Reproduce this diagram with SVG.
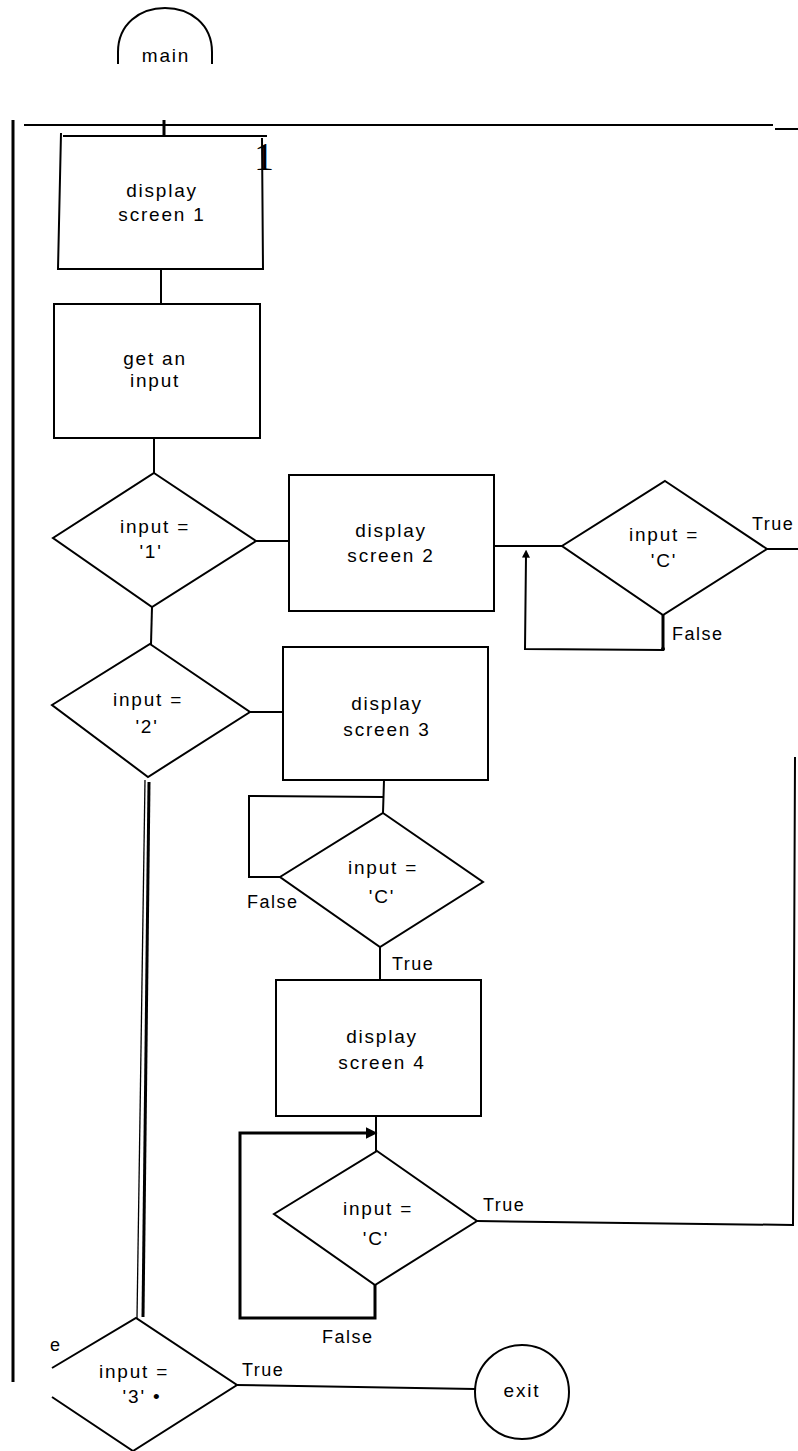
<svg xmlns="http://www.w3.org/2000/svg" width="798" height="1451" viewBox="0 0 798 1451">
<style>
  .shape { fill: none; stroke: #000; stroke-width: 2; stroke-linejoin: miter; }
  .line { fill: none; stroke: #000; stroke-width: 2; }
  .thick { fill: none; stroke: #000; stroke-width: 3; }
  .thin { fill: none; stroke: #000; stroke-width: 1.3; }
  .t { font-family: "Liberation Sans", Arial, sans-serif; font-size: 19px; letter-spacing: 1.8px; fill: #000; text-anchor: middle; }
  .lbl { font-family: "Liberation Sans", Arial, sans-serif; font-size: 18px; letter-spacing: 1.5px; fill: #000; }
</style>
<defs>
  <marker id="arrow" viewBox="0 0 10 10" refX="2" refY="5" markerWidth="4" markerHeight="4" orient="auto" markerUnits="strokeWidth">
    <path d="M0,0 L10,5 L0,10 Z" fill="#000"/>
  </marker>
</defs>
<rect width="798" height="1451" fill="#fff"/>

<g id="connectors">
  <line class="thick" x1="13" y1="120" x2="13" y2="1382"/>
  <line class="line" x1="24" y1="125" x2="773" y2="125" stroke-width="2.5"/>
  <line class="line" x1="775" y1="129" x2="798" y2="129"/>
  <line class="thick" x1="164" y1="120" x2="164" y2="136"/>
  <line class="line" x1="161" y1="269" x2="161" y2="303" stroke-width="2.5"/>
  <line class="line" x1="154" y1="438" x2="154" y2="473"/>
  <line class="line" x1="256" y1="541" x2="289" y2="541"/>
  <line class="line" x1="152" y1="607" x2="151" y2="644" stroke-width="2.5"/>
  <line class="line" x1="494" y1="546" x2="562" y2="546"/>
  <line class="line" x1="767" y1="549" x2="798" y2="549"/>
  <path class="line" d="M663,615 L663,650 L525,649 L526,556" marker-end="url(#arrow)"/>
  <line class="thick" x1="663" y1="615" x2="663" y2="650"/>
  <circle cx="663" cy="649" r="2" fill="#000"/>
  <line class="line" x1="250" y1="712" x2="283" y2="712"/>
  <line class="thin" x1="145" y1="780" x2="137" y2="1318"/>
  <line class="thick" x1="149" y1="782" x2="143" y2="1317"/>
  <line class="line" x1="384" y1="780" x2="383" y2="813"/>
  <path class="line" d="M383,797 L249,796 L249,877 L280,877"/>
  <line class="line" x1="380" y1="947" x2="380" y2="980"/>
  <line class="line" x1="376" y1="1117" x2="376" y2="1151"/>
  <path class="thick" d="M375,1285 L375,1318 L240,1318 L240,1133 L368,1133" marker-end="url(#arrow)"/>
  <path class="line" d="M477,1221 L793,1225 L795,757"/>
  <line class="line" x1="236" y1="1385" x2="475" y2="1389"/>
</g>

<g id="main">
  <path class="shape" d="M118,64 L118,52 C118,24 140,8 165,8 C190,8 212,24 212,52 L212,64"/>
  <text class="t" x="166" y="62">main</text>
</g>

<g id="screen1">
  <path class="shape" d="M63,136 L267,136 M262,138 L263,269 L58,269 L61,133"/>
  <text x="254" y="170" font-family="Liberation Serif, Times New Roman, serif" font-size="40" fill="#000">1</text>
  <text class="t" x="162" y="197">display</text>
  <text class="t" x="162" y="221">screen 1</text>
</g>

<g id="get-input">
  <rect class="shape" x="54" y="304" width="206" height="134"/>
  <text class="t" x="155" y="365">get an</text>
  <text class="t" x="155" y="387">input</text>
</g>

<g id="dec1">
  <polygon class="shape" points="154,473 256,541 152,607 53,538"/>
  <text class="t" x="155" y="533">input =</text>
  <text class="t" x="151" y="558">'1'</text>
</g>

<g id="screen2">
  <rect class="shape" x="289" y="475" width="205" height="136"/>
  <text class="t" x="391" y="537">display</text>
  <text class="t" x="391" y="562">screen 2</text>
</g>

<g id="dec-c1">
  <polygon class="shape" points="665,481 767,549 663,615 562,546"/>
  <text class="t" x="664" y="541">input =</text>
  <text class="t" x="664" y="567">'C'</text>
  <text class="lbl" x="752" y="530">True</text>
  <text class="lbl" x="672" y="640">False</text>
</g>

<g id="dec2">
  <polygon class="shape" points="150,644 250,712 148,777 52,705"/>
  <text class="t" x="148" y="706">input =</text>
  <text class="t" x="147" y="733">'2'</text>
</g>

<g id="screen3">
  <rect class="shape" x="283" y="647" width="205" height="133"/>
  <text class="t" x="387" y="710">display</text>
  <text class="t" x="387" y="736">screen 3</text>
</g>

<g id="dec-c2">
  <polygon class="shape" points="383,813 483,882 380,947 280,877"/>
  <text class="t" x="383" y="874">input =</text>
  <text class="t" x="382" y="903">'C'</text>
  <text class="lbl" x="247" y="908">False</text>
  <text class="lbl" x="392" y="970">True</text>
</g>

<g id="screen4">
  <rect class="shape" x="276" y="980" width="205" height="136"/>
  <text class="t" x="382" y="1043">display</text>
  <text class="t" x="382" y="1069">screen 4</text>
</g>

<g id="dec-c3">
  <polygon class="shape" points="377,1151 477,1221 375,1285 274,1214"/>
  <text class="t" x="378" y="1215">input =</text>
  <text class="t" x="376" y="1245">'C'</text>
  <text class="lbl" x="483" y="1211">True</text>
  <text class="lbl" x="322" y="1343">False</text>
</g>

<g id="dec3">
  <path class="shape" d="M52,1368 L136,1318 L237,1385 L133,1451 M52,1397 L133,1451"/>
  <text class="t" x="134" y="1378">input =</text>
  <text class="t" x="142" y="1403">'3' •</text>
  <text class="lbl" x="50" y="1351">e</text>
  <text class="lbl" x="242" y="1376">True</text>
</g>

<g id="exit">
  <ellipse class="shape" cx="522" cy="1392" rx="47" ry="47"/>
  <text class="t" x="522" y="1397">exit</text>
</g>
</svg>
